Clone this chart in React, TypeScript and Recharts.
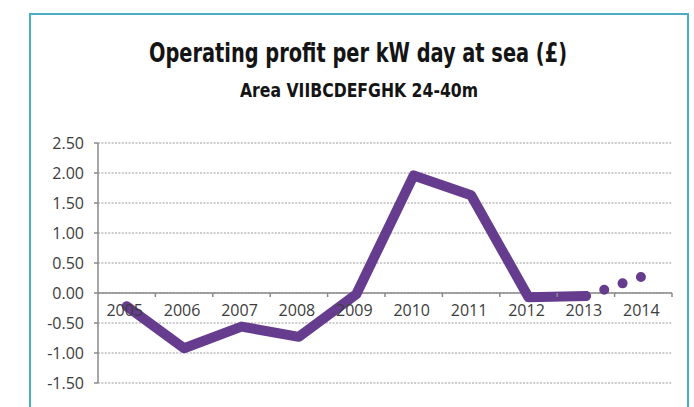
import React from 'react';
import { LineChart, Line, XAxis, YAxis, CartesianGrid, ReferenceLine, ReferenceDot } from 'recharts';

const years = [2005, 2006, 2007, 2008, 2009, 2010, 2011, 2012, 2013, 2014];
const profit: (number | null)[] = [-0.22, -0.92, -0.56, -0.73, -0.02, 1.96, 1.63, -0.07, -0.05, null];
const projection: (number | null)[] = [null, null, null, null, null, null, null, null, -0.05, 0.28];
const yTicks = [-1.5, -1, -0.5, 0, 0.5, 1, 1.5, 2, 2.5];
const boundaries = [2005.5, 2006.5, 2007.5, 2008.5, 2009.5, 2010.5, 2011.5, 2012.5, 2013.5, 2014.5];
const title = 'Operating profit per kW day at sea (£)';
const subtitle = 'Area VIIBCDEFGHK 24-40m';

const data = years.map((y, i) => ({ year: y, profit: profit[i], projection: projection[i] }));

const PURPLE = '#663c8e';
const AXIS = '#8a8a8a';
const LABEL = '#3c3c3c';
const FONT = "'Open Sans', 'DejaVu Sans', sans-serif";

export default function App() {
  return (
    <div style={{ position: 'absolute', left: 0, top: 0, width: 694, height: 407, overflow: 'hidden', background: '#fff' }}>
      <div
        style={{
          position: 'absolute',
          left: 29,
          top: 13,
          width: 660,
          height: 430,
          border: '2px solid #4bacc6',
          boxSizing: 'border-box',
        }}
      />
      <div style={{ position: 'absolute', left: 0, top: 0 }}>
        <LineChart width={694} height={407} data={data} margin={{ top: 143, right: 22, bottom: 24, left: 0 }}>
          <CartesianGrid vertical={false} stroke="#9a9a9a" strokeDasharray="2 1.4" />
          <XAxis type="number" dataKey="year" domain={[2004.5, 2014.5]} hide />
          <YAxis
            type="number"
            domain={[-1.5, 2.5]}
            ticks={yTicks}
            interval={0}
            width={98}
            tickFormatter={(v: number) => v.toFixed(2)}
            axisLine={{ stroke: AXIS, strokeWidth: 1.5 }}
            tickLine={{ stroke: AXIS, strokeWidth: 1.5 }}
            tickSize={4}
            tickMargin={10}
            tick={{ fill: LABEL, fontSize: 16, fontFamily: FONT }}
          />
          <ReferenceLine y={0} stroke={AXIS} strokeWidth={1.5} ifOverflow="visible" />
          {boundaries.map((b) => (
            <ReferenceDot
              key={'b' + b}
              x={b}
              y={0}
              ifOverflow="visible"
              shape={(p: any) => <line x1={p.cx} y1={p.cy} x2={p.cx} y2={p.cy + 4} stroke={AXIS} strokeWidth={1.5} />}
            />
          ))}
          {years.map((yr) => (
            <ReferenceDot
              key={'l' + yr}
              x={yr}
              y={0}
              ifOverflow="visible"
              shape={(p: any) => (
                <text
                  x={p.cx - 2}
                  y={p.cy + 17}
                  textAnchor="middle"
                  dominantBaseline="central"
                  fill={LABEL}
                  fontSize={16}
                  fontFamily={FONT}
                >
                  {yr}
                </text>
              )}
            />
          ))}
          <Line
            dataKey="profit"
            stroke={PURPLE}
            strokeWidth={10}
            strokeLinecap="round"
            strokeLinejoin="round"
            dot={false}
            activeDot={false}
            isAnimationActive={false}
          />
          <Line
            dataKey="projection"
            stroke={PURPLE}
            strokeWidth={10}
            strokeLinecap="round"
            strokeDasharray="0 19.4"
            dot={false}
            activeDot={false}
            isAnimationActive={false}
          />
        </LineChart>
      </div>
      <svg width={694} height={407} style={{ position: 'absolute', left: 0, top: 0, pointerEvents: 'none' }}>
        <text
          x={358}
          y={62}
          textAnchor="middle"
          fontSize={26}
          fontWeight="bold"
          fontFamily="'DejaVu Sans Condensed', 'DejaVu Sans', sans-serif"
          style={{ fontStretch: 'condensed' }}
          fill="#141414"
          textLength={418}
          lengthAdjust="spacingAndGlyphs"
        >
          {title}
        </text>
        <text
          x={359}
          y={97}
          textAnchor="middle"
          fontSize={19}
          fontWeight="bold"
          fontFamily="'DejaVu Sans Condensed', 'DejaVu Sans', sans-serif"
          style={{ fontStretch: 'condensed' }}
          fill="#141414"
          textLength={238}
          lengthAdjust="spacingAndGlyphs"
        >
          {subtitle}
        </text>
      </svg>
    </div>
  );
}
